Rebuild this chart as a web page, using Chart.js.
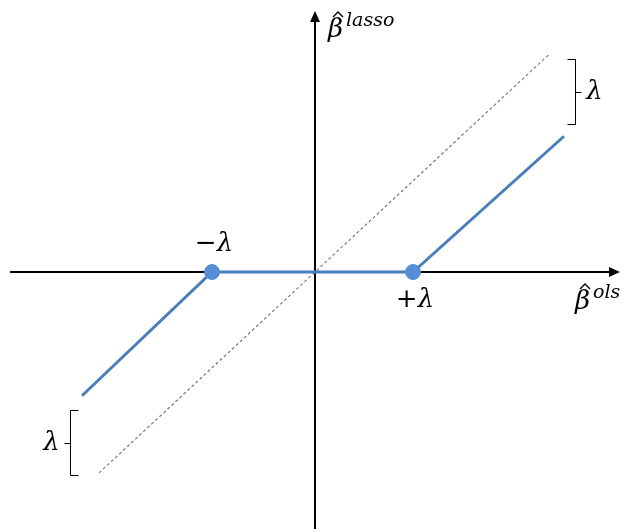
<!DOCTYPE html>
<html>
<head>
<meta charset="utf-8">
<script src="https://cdn.jsdelivr.net/npm/chart.js@4"></script>
<style>
  html, body { margin: 0; padding: 0; background: #fff; }
  #wrap { width: 622px; height: 529px; }
</style>
</head>
<body>
<div id="wrap"><canvas id="myChart"></canvas></div>
<script>
// threshold value
const lambda = 1;

// dotted reference line y = x (ols)
const olsX = [-2.16, 2.34];
const olsY = [-2.16, 2.34];

// soft-threshold (lasso) line
const lassoX = [-2.33, -1.03, 0.98, 2.49];
const lassoY = [-1.33, 0, 0, 1.46];

// knots at -lambda / +lambda
const knotX = [-1.03, 0.98];
const knotY = [0, 0];
const knotLabels = ['\u2212\u03bb', '+\u03bb'];

// braces showing the lambda gap
const braceX = [2.6, -2.45];
const braceTop = [2.29, -1.48];
const braceBottom = [1.59, -2.18];

const toPoints = (xs, ys) => xs.map((x, i) => ({ x: x, y: ys[i] }));

const blue = '#4a7ebb';
const serif = '"DejaVu Serif", "Liberation Serif", serif';

// axes, arrows, braces and text
const decorations = {
  id: 'decorations',
  beforeDatasetsDraw(chart) {
    const c = chart.ctx;
    const xs = chart.scales.x, ys = chart.scales.y;
    const x0 = xs.getPixelForValue(0), y0 = ys.getPixelForValue(0);
    const a = chart.chartArea;
    c.save();
    c.strokeStyle = '#000';
    c.fillStyle = '#000';
    c.lineWidth = 2;
    c.beginPath();
    c.moveTo(a.left + 10, y0);
    c.lineTo(a.right - 6, y0);
    c.moveTo(x0, a.bottom);
    c.lineTo(x0, a.top + 16);
    c.stroke();
    // arrow heads
    c.beginPath();
    c.moveTo(a.right - 2, y0);
    c.lineTo(a.right - 13, y0 - 5);
    c.lineTo(a.right - 13, y0 + 5);
    c.closePath();
    c.fill();
    c.beginPath();
    c.moveTo(x0, a.top + 11);
    c.lineTo(x0 - 5, a.top + 22);
    c.lineTo(x0 + 5, a.top + 22);
    c.closePath();
    c.fill();
    c.restore();
  },
  afterDatasetsDraw(chart) {
    const c = chart.ctx;
    const xs = chart.scales.x, ys = chart.scales.y;
    c.save();
    // braces
    c.strokeStyle = '#000';
    c.lineWidth = 1;
    braceX.forEach((bx, i) => {
      const px = Math.round(xs.getPixelForValue(bx)) + 0.5;
      const t = Math.round(ys.getPixelForValue(braceTop[i])) + 0.5;
      const b = Math.round(ys.getPixelForValue(braceBottom[i])) + 0.5;
      const m = Math.round((t + b) / 2) + 0.5;
      const dir = bx > 0 ? 1 : -1;
      c.beginPath();
      c.moveTo(px - 8 * dir, t);
      c.lineTo(px, t);
      c.lineTo(px, b);
      c.lineTo(px - 8 * dir, b);
      c.moveTo(px, m);
      c.lineTo(px + 6 * dir, m);
      c.stroke();
      c.fillStyle = '#000';
      c.font = 'italic 26px ' + serif;
      c.textBaseline = 'middle';
      c.textAlign = 'center';
      c.fillText('\u03bb', px + 19 * dir, m);
    });
    // knot labels
    c.font = 'italic 26px ' + serif;
    c.textAlign = 'center';
    c.textBaseline = 'middle';
    knotX.forEach((kx, i) => {
      const px = xs.getPixelForValue(kx);
      const py = ys.getPixelForValue(knotY[i]);
      c.fillText(knotLabels[i], px + 2, py + (kx < 0 ? -28 : 28));
    });
    // axis titles: beta with a hat and a superscript
    const drawBeta = (px, py, sup) => {
      c.textAlign = 'left';
      c.textBaseline = 'alphabetic';
      c.font = 'italic 26px ' + serif;
      c.fillText('\u03b2', px, py);
      c.lineWidth = 1.4;
      c.beginPath();
      c.moveTo(px + 5, py - 20);
      c.lineTo(px + 10, py - 25);
      c.lineTo(px + 15, py - 20);
      c.stroke();
      c.font = 'italic 19px ' + serif;
      c.fillText(sup, px + 18, py - 11);
    };
    const x0 = xs.getPixelForValue(0), y0 = ys.getPixelForValue(0);
    drawBeta(x0 + 13, 37, 'lasso');
    drawBeta(575, y0 + 37, 'ols');
    c.restore();
  }
};

const ctx = document.getElementById('myChart');
new Chart(ctx, {
  type: 'scatter',
  data: {
    datasets: [
      {
        data: toPoints(knotX, knotY),
        backgroundColor: '#558ed5',
        borderColor: '#558ed5',
        pointRadius: 7.5,
        showLine: false,
        order: 0
      },
      {
        data: toPoints(lassoX, lassoY),
        borderColor: blue,
        borderWidth: 3,
        pointRadius: 0,
        showLine: true,
        order: 1
      },
      {
        data: toPoints(olsX, olsY),
        borderColor: '#7a7a7a',
        borderWidth: 1.2,
        borderDash: [3, 2.5],
        pointRadius: 0,
        showLine: true,
        order: 2
      }
    ]
  },
  options: {
    responsive: true,
    maintainAspectRatio: false,
    animation: false,
    layout: { padding: 0, autoPadding: false },
    plugins: { legend: { display: false }, tooltip: { enabled: false } },
    scales: {
      x: { type: 'linear', min: -3.15, max: 3.07, display: false },
      y: { type: 'linear', min: -2.763, max: 2.925, display: false }
    }
  },
  plugins: [decorations]
});
</script>
</body>
</html>
